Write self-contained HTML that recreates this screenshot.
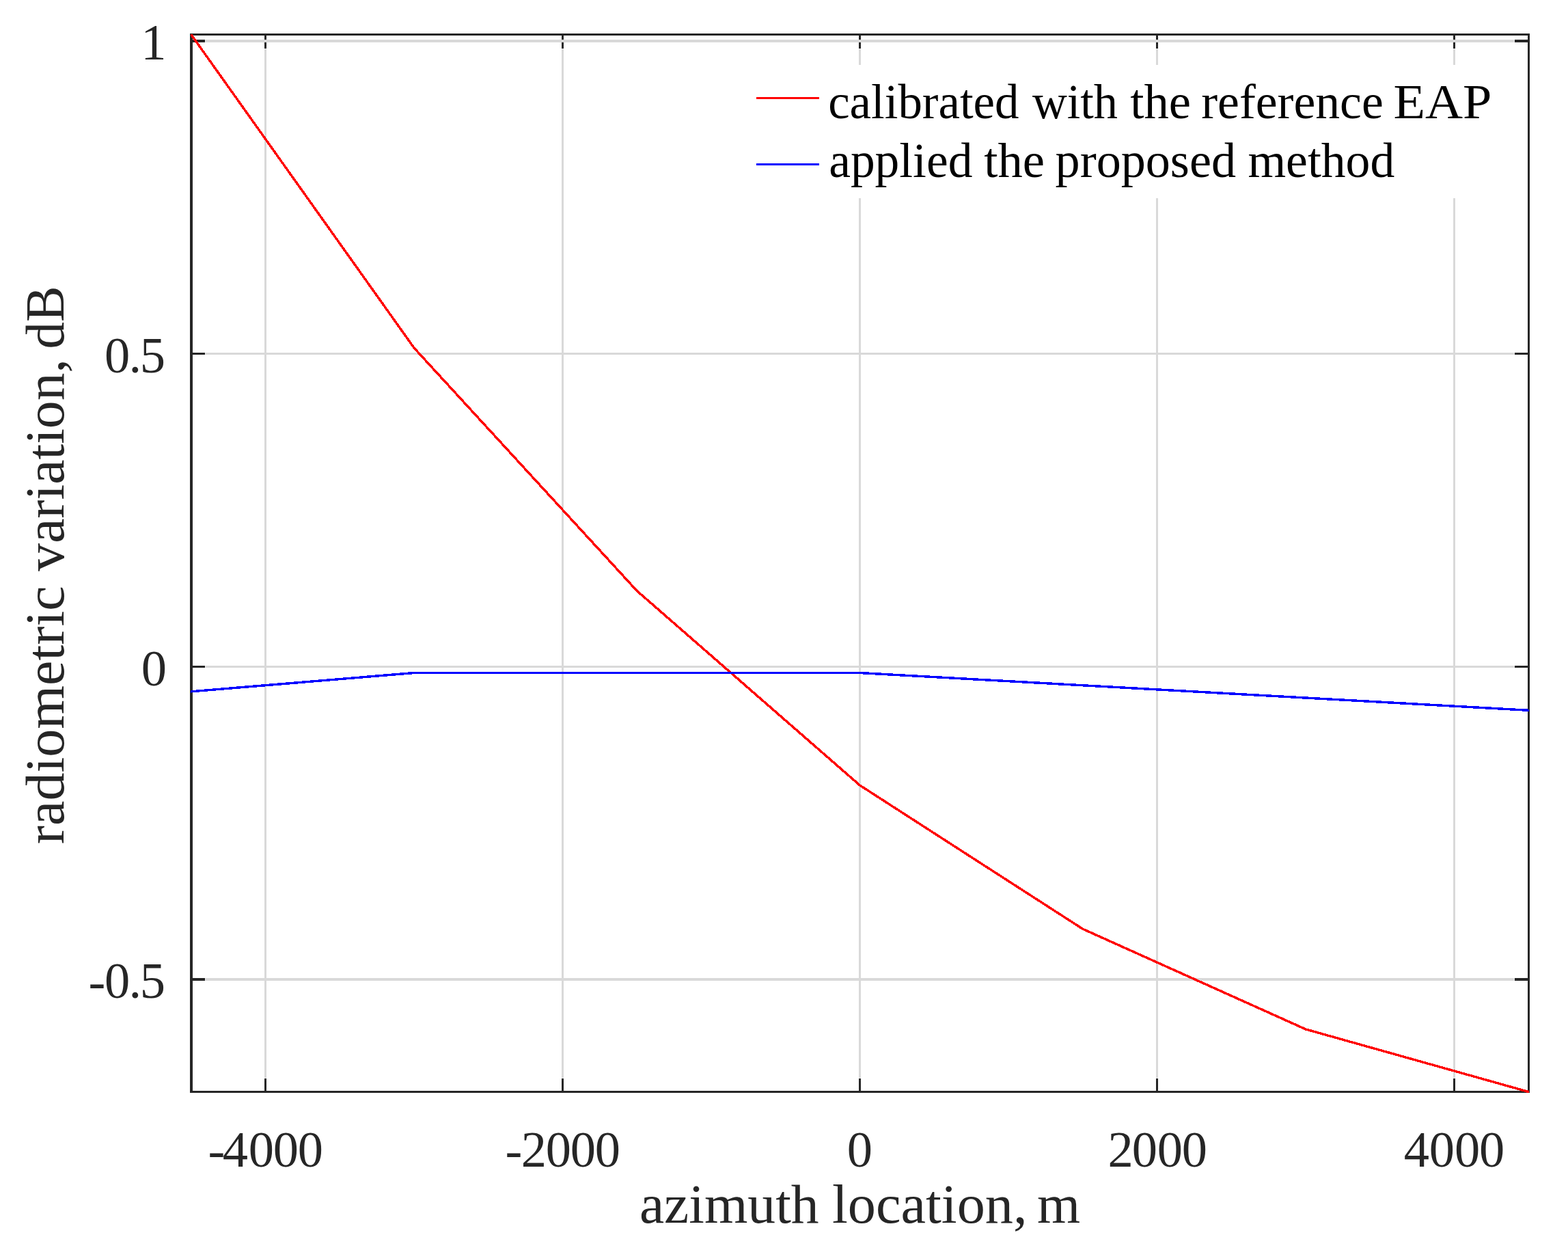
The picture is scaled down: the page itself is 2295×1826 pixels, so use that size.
<!DOCTYPE html>
<html lang="en">
<head>
<meta charset="utf-8">
<style>
html,body{margin:0;padding:0;background:#ffffff;width:2295px;height:1826px;}
svg{display:block;width:2295px;height:1826px;}
svg text{font-family:"Liberation Serif",serif;white-space:pre;}
</style>
</head>
<body>
<svg width="2295" height="1826" viewBox="0 0 2295 1826">
<rect x="0" y="0" width="2295" height="1826" fill="#ffffff"/>
<g shape-rendering="crispEdges">
<rect x="387" y="71" width="3" height="1507" fill="#e8e8e8"/>
<rect x="387" y="72" width="3" height="1505" fill="#d9d9d9"/>
<rect x="822" y="71" width="3" height="1507" fill="#e8e8e8"/>
<rect x="822" y="72" width="3" height="1505" fill="#d9d9d9"/>
<rect x="1257" y="71" width="3" height="1507" fill="#e8e8e8"/>
<rect x="1257" y="72" width="3" height="1505" fill="#d9d9d9"/>
<rect x="1692" y="71" width="3" height="1507" fill="#e8e8e8"/>
<rect x="1692" y="72" width="3" height="1505" fill="#d9d9d9"/>
<rect x="2127" y="71" width="3" height="1507" fill="#e8e8e8"/>
<rect x="2127" y="72" width="3" height="1505" fill="#d9d9d9"/>
<rect x="300" y="58" width="1917" height="4" fill="#e8e8e8"/>
<rect x="301" y="58" width="1915" height="4" fill="#d9d9d9"/>
<rect x="300" y="516" width="1917" height="3" fill="#e8e8e8"/>
<rect x="301" y="516" width="1915" height="3" fill="#d9d9d9"/>
<rect x="300" y="974" width="1917" height="3" fill="#e8e8e8"/>
<rect x="301" y="974" width="1915" height="3" fill="#d9d9d9"/>
<rect x="300" y="1431" width="1917" height="4" fill="#e8e8e8"/>
<rect x="301" y="1431" width="1915" height="4" fill="#d9d9d9"/>
<rect x="1085" y="95" width="1131" height="195" fill="#ffffff"/>
</g>
<g shape-rendering="crispEdges">
<rect x="278" y="49" width="4" height="1550" fill="#262626"/>
<rect x="2236" y="49" width="3" height="1550" fill="#262626"/>
<rect x="278" y="49" width="1961" height="3" fill="#262626"/>
<rect x="278" y="1596" width="1961" height="3" fill="#262626"/>
<rect x="387" y="52" width="3" height="19" fill="#262626"/>
<rect x="387" y="1578" width="3" height="18" fill="#262626"/>
<rect x="822" y="52" width="3" height="19" fill="#262626"/>
<rect x="822" y="1578" width="3" height="18" fill="#262626"/>
<rect x="1257" y="52" width="3" height="19" fill="#262626"/>
<rect x="1257" y="1578" width="3" height="18" fill="#262626"/>
<rect x="1692" y="52" width="3" height="19" fill="#262626"/>
<rect x="1692" y="1578" width="3" height="18" fill="#262626"/>
<rect x="2127" y="52" width="3" height="19" fill="#262626"/>
<rect x="2127" y="1578" width="3" height="18" fill="#262626"/>
<rect x="282" y="58" width="18" height="4" fill="#262626"/>
<rect x="2217" y="58" width="19" height="4" fill="#262626"/>
<rect x="282" y="516" width="18" height="3" fill="#262626"/>
<rect x="2217" y="516" width="19" height="3" fill="#262626"/>
<rect x="282" y="974" width="18" height="3" fill="#262626"/>
<rect x="2217" y="974" width="19" height="3" fill="#262626"/>
<rect x="282" y="1431" width="18" height="4" fill="#262626"/>
<rect x="2217" y="1431" width="19" height="4" fill="#262626"/>
<rect x="387" y="58" width="3" height="4" fill="#d9d9d9"/>
<rect x="822" y="58" width="3" height="4" fill="#d9d9d9"/>
<rect x="1257" y="58" width="3" height="4" fill="#d9d9d9"/>
<rect x="1692" y="58" width="3" height="4" fill="#d9d9d9"/>
<rect x="2127" y="58" width="3" height="4" fill="#d9d9d9"/>
</g>
<defs><clipPath id="axclip"><rect x="279" y="50" width="1959" height="1549"/></clipPath></defs>
<polyline points="277.43,47.24 606,509 932.25,864.5 1258.5,1149 1584.75,1359.2 1911,1505.9 2241.1,1598.58" fill="none" stroke="#ff0000" stroke-width="3.45" stroke-linejoin="round" stroke-linecap="butt" shape-rendering="crispEdges" clip-path="url(#axclip)"/>
<polyline points="275.76,1012.16 606,984.5 1258.5,984.5 2241.24,1039.52" fill="none" stroke="#0000ff" stroke-width="3.45" stroke-linejoin="round" stroke-linecap="butt" shape-rendering="crispEdges" clip-path="url(#axclip)"/>
<g shape-rendering="crispEdges">
<rect x="1107" y="142" width="92" height="3" fill="#ff0000"/>
<rect x="1107" y="239" width="92" height="3" fill="#0000ff"/>
</g>
<text y="172.7" font-size="71.5" fill="#000000"><tspan x="1212.18" textLength="296.99" lengthAdjust="spacingAndGlyphs">calibrated </tspan><tspan x="1511" textLength="142.53" lengthAdjust="spacingAndGlyphs">with </tspan><tspan x="1654.24" textLength="106.86" lengthAdjust="spacingAndGlyphs">the </tspan><tspan x="1758.2" textLength="284.49" lengthAdjust="spacingAndGlyphs">reference </tspan><tspan x="2039.47" textLength="143.95" lengthAdjust="spacingAndGlyphs">EAP</tspan></text>
<text y="258.6" font-size="71.5" fill="#000000"><tspan x="1213.2" textLength="228" lengthAdjust="spacingAndGlyphs">applied </tspan><tspan x="1440.34" textLength="106.74" lengthAdjust="spacingAndGlyphs">the </tspan><tspan x="1544.64" textLength="282.37" lengthAdjust="spacingAndGlyphs">proposed </tspan><tspan x="1826.4" textLength="214.87" lengthAdjust="spacingAndGlyphs">method</tspan></text>
<text y="1789.3" font-size="80" fill="#262626"><tspan x="935.9" textLength="283.06" lengthAdjust="spacingAndGlyphs">azimuth </tspan><tspan x="1217.96" textLength="306.1" lengthAdjust="spacingAndGlyphs">location, </tspan><tspan x="1518.02" textLength="63.13" lengthAdjust="spacingAndGlyphs">m</tspan></text>
<text transform="rotate(-90)" y="93.1" font-size="80" fill="#262626"><tspan x="-1235.34" textLength="398.58" lengthAdjust="spacingAndGlyphs">radiometric </tspan><tspan x="-835.7" textLength="331.01" lengthAdjust="spacingAndGlyphs">variation, </tspan><tspan x="-510.56" textLength="92.17" lengthAdjust="spacingAndGlyphs">dB</tspan></text>
<g font-size="74.5" fill="#262626">
<text x="304.52 325.75 363.68 399.82 435.82" y="1708 1707 1707 1707 1707">-4000</text>
<text x="739.53 762.65 798.67 834.83 870.83" y="1708 1707 1707 1707 1707">-2000</text>
<text x="1239.85" y="1707">0</text>
<text x="1621.55 1656.72 1693.72 1729.78" y="1707">2000</text>
<text x="2054.75 2091.82 2128.93 2164.88" y="1707">4000</text>
<text x="206.27" y="87">1</text>
<text x="152.88 188.62 204.85" y="545">0.5</text>
<text x="206.82" y="1003">0</text>
<text x="129.53 152.88 188.62 204.85" y="1461 1460 1460 1460">-0.5</text>
</g>
</svg>
</body>
</html>
